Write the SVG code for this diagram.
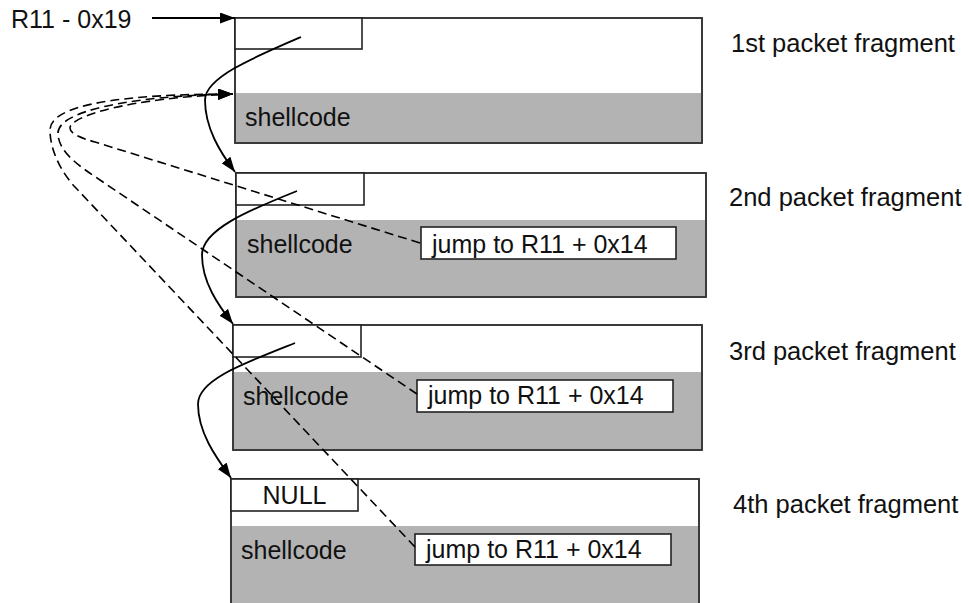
<svg xmlns="http://www.w3.org/2000/svg" width="969" height="603" viewBox="0 0 969 603">
<defs>
<marker id="arr" markerUnits="userSpaceOnUse" markerWidth="16" markerHeight="11" refX="15" refY="5.5" orient="auto">
<path d="M0,0 L15,5.5 L0,11 z" fill="#000"/>
</marker>
<style>
.frame{fill:#fff;stroke:#333;stroke-width:1.6}
.gray{fill:#b3b3b3;stroke:none}
.box{fill:#fff;stroke:#222;stroke-width:1.6}
.edge{fill:none;stroke:#333;stroke-width:1.6}
text{font-family:"Liberation Sans",Arial,sans-serif;font-size:25px;fill:#111}
.lbl{font-size:25.5px}
.solid{fill:none;stroke:#000;stroke-width:1.8;marker-end:url(#arr)}
.dash{fill:none;stroke:#000;stroke-width:1.6;stroke-dasharray:9 5;marker-end:url(#arr)}
</style>
</defs>
<rect width="969" height="603" fill="#fff"/>
<text x="11" y="28">R11 - 0x19</text>
<g id="frag1">
<rect class="frame" x="235" y="18" width="467" height="125"/>
<rect class="gray" x="236" y="93" width="465" height="49"/>
<rect class="edge" x="235" y="18" width="467" height="125"/>
<rect class="box" x="235" y="18" width="127" height="31"/>
<text x="245" y="126">shellcode</text>
<text class="lbl" x="731" y="52">1st packet fragment</text>
</g>
<g id="frag2">
<rect class="frame" x="236" y="173" width="470" height="124"/>
<rect class="gray" x="237" y="220" width="468" height="76"/>
<rect class="edge" x="236" y="173" width="470" height="124"/>
<rect class="box" x="236" y="173" width="128" height="32"/>
<rect class="box" x="421" y="227" width="255" height="32"/>
<text x="247" y="253">shellcode</text>
<text x="432" y="253">jump to R11 + 0x14</text>
<text class="lbl" x="729" y="206">2nd packet fragment</text>
</g>
<g id="frag3">
<rect class="frame" x="233" y="325" width="469" height="125"/>
<rect class="gray" x="234" y="372" width="467" height="77"/>
<rect class="edge" x="233" y="325" width="469" height="125"/>
<rect class="box" x="233" y="325" width="128" height="32"/>
<rect class="box" x="417" y="380" width="256" height="32"/>
<text x="243" y="405">shellcode</text>
<text x="428" y="404">jump to R11 + 0x14</text>
<text class="lbl" x="729" y="360">3rd packet fragment</text>
</g>
<g id="frag4">
<rect class="frame" x="231" y="479" width="468" height="135"/>
<rect class="gray" x="232" y="526" width="466" height="88"/>
<rect class="edge" x="231" y="479" width="468" height="135"/>
<rect class="box" x="231" y="479" width="127" height="32"/>
<rect class="box" x="415" y="534" width="256" height="31"/>
<text x="294.5" y="504" text-anchor="middle">NULL</text>
<text x="241" y="559">shellcode</text>
<text x="426" y="558">jump to R11 + 0x14</text>
<text class="lbl" x="733" y="513">4th packet fragment</text>
</g>
<g id="connectors">
<path class="solid" d="M152,18 L235,18"/>
<path class="solid" d="M301,37 C252,58 205,78 205,100 C205,128 220,152 235,172"/>
<path class="solid" d="M297,191 C247,211 202,230 202,255 C202,282 218,305 233,324"/>
<path class="solid" d="M295,343 C242,364 198,380 198,404 C198,432 215,456 231,478"/>
<path class="dash" d="M420,243 L95,142 C81,138 70,134 70,128 C70,116 130,98 233,94"/>
<path class="dash" d="M417,394 L100,180 C79,166 58,152 58,133 C58,112 125,96 233,94"/>
<path class="dash" d="M415,547 L75,187 C61,172 50,150 50,130 C50,105 120,94 233,94"/>
</g>
</svg>
